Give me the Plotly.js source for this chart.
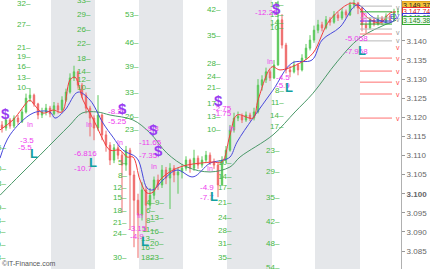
<!DOCTYPE html>
<html><head><meta charset="utf-8">
<script src="https://cdn.plot.ly/plotly-3.0.1.min.js"></script>
<style>html,body{margin:0;padding:0;background:#fff}#chart{width:430px;height:269px}</style>
</head><body><div id="chart"></div>
<script>
// ---- price bars (one per time step) ----
const firstOpen = 3.1180;
const closes = [3.1172,3.1193,3.1177,3.1198,3.1188,3.1214,3.1250,3.1258,3.1235,3.1206,
3.1214,3.1224,3.1209,3.1230,3.1219,3.1245,3.1266,3.1303,3.1319,3.1284,
3.1258,3.1224,3.1198,3.1172,3.1206,3.1154,3.1127,3.1088,3.1120,3.1101,
3.1075,3.1114,3.1049,3.0983,3.0944,3.1010,3.0970,3.0996,3.1036,3.1023,
3.1062,3.1041,3.1067,3.1049,3.1057,3.1067,3.1088,3.1067,3.1093,3.1075,
3.1088,3.1101,3.1083,3.1075,3.1023,3.1088,3.1114,3.1167,3.1198,3.1203,
3.1193,3.1206,3.1198,3.1214,3.1284,3.1298,3.1319,3.1303,3.1337,3.1455,
3.1389,3.1324,3.1319,3.1337,3.1324,3.1355,3.1381,3.1402,3.1428,3.1442,
3.1434,3.1455,3.1449,3.1468,3.1460,3.1476,3.1468,3.1494,3.1499,3.1486,
3.1442,3.1434,3.1455,3.1444,3.1460,3.1449,3.1465,3.1455,3.1476,3.1477];
const highs = [3.1190,3.1200,3.1198,3.1205,3.1206,3.1222,3.1262,3.1275,3.1262,3.1238,
3.1225,3.1235,3.1230,3.1240,3.1238,3.1255,3.1275,3.1315,3.1335,3.1322,
3.1290,3.1265,3.1230,3.1205,3.1258,3.1210,3.1165,3.1135,3.1130,3.1128,
3.1110,3.1125,3.1120,3.1060,3.1000,3.1030,3.1020,3.1015,3.1045,3.1050,
3.1075,3.1070,3.1080,3.1075,3.1068,3.1078,3.1098,3.1092,3.1115,3.1100,
3.1098,3.1112,3.1108,3.1092,3.1080,3.1098,3.1125,3.1180,3.1212,3.1215,
3.1210,3.1215,3.1212,3.1225,3.1300,3.1310,3.1330,3.1325,3.1350,3.1505,
3.1470,3.1395,3.1335,3.1348,3.1342,3.1365,3.1392,3.1415,3.1440,3.1455,
3.1450,3.1465,3.1462,3.1478,3.1475,3.1486,3.1482,3.1502,3.1507,3.1502,
3.1490,3.1450,3.1462,3.1460,3.1468,3.1465,3.1472,3.1470,3.1484,3.1485];
const lows = [3.1160,3.1165,3.1170,3.1172,3.1180,3.1185,3.1210,3.1240,3.1228,3.1195,
3.1198,3.1205,3.1200,3.1205,3.1210,3.1215,3.1240,3.1262,3.1295,3.1275,
3.1250,3.1210,3.1150,3.1140,3.1165,3.1140,3.1110,3.1075,3.1080,3.1090,
3.0950,3.1060,3.0905,3.0860,3.0832,3.0930,3.0900,3.0960,3.0985,3.1010,
3.1015,3.1025,3.0960,3.1030,3.1000,3.1040,3.1060,3.1055,3.1060,3.1065,
3.1068,3.1080,3.1075,3.1065,3.0991,3.1020,3.1080,3.1110,3.1160,3.1190,
3.1185,3.1188,3.1190,3.1192,3.1210,3.1270,3.1290,3.1295,3.1300,3.1335,
3.1380,3.1315,3.1305,3.1315,3.1310,3.1320,3.1350,3.1375,3.1395,3.1420,
3.1425,3.1430,3.1440,3.1445,3.1452,3.1455,3.1460,3.1465,3.1485,3.1470,
3.1425,3.1420,3.1430,3.1438,3.1440,3.1442,3.1445,3.1450,3.1452,3.1468];

// ---- moving averages (time step, value) ----
const maRedT = [-0.5,2.75,7,7.75,10.25,12.75,15,17,18.25,19,20.25,22,23.75,25.25,27,29.5,31.25,32.75,34.5,36.25,37.75,39.5,42.75,46.25,49.5,52.75,55,57,58.75,62.75,64,67.5,69.5,74.5,77.75,82,87.75,91.25,94.5,97,98.5];
const maRedV = [3.1167,3.1193,3.1245,3.1237,3.1211,3.1219,3.1214,3.1298,3.1305,3.1290,3.1245,3.1211,3.1175,3.1141,3.1114,3.1114,3.1096,3.1096,3.1036,3.1002,3.1004,3.1036,3.1062,3.1075,3.1080,3.1083,3.1083,3.1154,3.1206,3.1198,3.1245,3.1332,3.1324,3.1342,3.1368,3.1455,3.1499,3.1462,3.1447,3.1473,3.1476];
const maBlueT = [-0.5,2,7.75,12,13.25,15.75,19,22,25.25,27.75,30.25,33.75,36.25,37.75,40.25,43.75,47.75,52,55.25,57,58.75,62.75,67.75,72.5,77.5,80,84.5,88.75,92.75,97,98.5];
const maBlueV = [3.1093,3.1154,3.1211,3.1214,3.1198,3.1219,3.1266,3.1245,3.1185,3.1148,3.1114,3.1093,3.1015,3.1010,3.1036,3.1062,3.1044,3.1080,3.1088,3.1096,3.1135,3.1198,3.1271,3.1342,3.1350,3.1402,3.1436,3.1494,3.1462,3.1447,3.1460];
const maGreenT = [-0.5,4.5,9.5,13.75,17,20,23.75,27,32.75,37,41.25,46.25,52,57,59.5,67.75,73.25,77.75,83.75,89.5,98.5];
const maGreenV = [3.0996,3.1049,3.1101,3.1146,3.1180,3.1211,3.1214,3.1206,3.1193,3.1159,3.1106,3.1070,3.1057,3.1070,3.1096,3.1154,3.1214,3.1263,3.1345,3.1408,3.1454];

// ---- sessions (shaded) ----
const sessionStart = [12.25,34.25,56.25,78.25];
const sessionEnd   = [23.25,45.25,67.5,89.5];

// ---- axis ticks ----
const tickVals = [3.085,3.090,3.095,3.100,3.105,3.110,3.115,3.120,3.125,3.130,3.135,3.140];
const tickText = ['3.085','3.090','3.095','<b>3.100</b>','3.105','3.110','3.115','3.120','3.125','3.130','3.135','3.140'];

// ---- level lines on the right ----
const levelStart = 89.5, levelEnd = 97.5;
const redLevels = [3.1418,3.1355,3.1321,3.1292,3.1261,3.1198];
const greyLevels = [3.1491,3.1460,3.1431,3.1400];
const greenLevels = [3.1476,3.1444];
const blueLevels = [3.1452];
const redMarkLevels = [3.1383,3.1355,3.1321,3.1292,3.1261,3.1198];
const greyMarkLevels = [3.1488,3.1455,3.1423,3.1400];

// ---- right axis price boxes ----
const boxPrices = [3.14937,3.14774,3.14603,3.14538];
const boxTexts = ['3.149.37','3.147.74','3.146.03','3.145.38'];

// ---- green counter columns ----
const colA_T = 7.5,  colA_txt = ['32','27','21','19','16','13','10'], colA_v = [3.1497,3.1442,3.1384,3.1360,3.1332,3.1305,3.1279];
const colB_T = 22.5, colB_txt = ['33','29','26','22','18','14','12','10'], colB_v = [3.1505,3.1468,3.1431,3.1394,3.1355,3.1319,3.1298,3.1277];
const colC_T = 34.6, colC_txt = ['53','46','39','33','26','23'], colC_v = [3.1468,3.1397,3.1334,3.1266,3.1201,3.1167];
const colD_T = 55.0, colD_txt = ['42','35','28','24','21','17','13','10'], colD_v = [3.1483,3.1413,3.1342,3.1308,3.1279,3.1237,3.1201,3.1167];
const colE_T = 70.8, colE_txt = ['15','13','14','10','8','11','14','17'], colE_v = [3.1494,3.1468,3.1447,3.1434,3.1271,3.1240,3.1206,3.1175];
const colF_T = 1.2,  colF_txt = ['5','0','3','9','23','16','19','13'], colF_v = [3.1120,3.1067,3.1028,3.0965,3.0931,3.0900,3.0866,3.0832];
const colG_T = 31.5, colG_txt = ['5','8','12','15','18','21','24','30'], colG_v = [3.1083,3.1049,3.1017,3.0989,3.0957,3.0926,3.0897,3.0834];
const colH_T = 38.5, colH_txt = ['4','6','8','11','13','16','18'], colH_v = [3.0978,3.0955,3.0931,3.0907,3.0884,3.0860,3.0834];
const colI_T = 40.8, colI_txt = ['9','13','16','20','23'], colI_v = [3.0976,3.0939,3.0902,3.0871,3.0834];
const colJ_T = 57.8, colJ_txt = ['10','14','17','21','24','28','31','35'], colJ_v = [3.1083,3.1044,3.1015,3.0976,3.0939,3.0905,3.0871,3.0834];
const colK_T = 69.8, colK_txt = ['23','29','35','42','48','54'], colK_v = [3.1114,3.1057,3.0991,3.0928,3.0871,3.0808];

// ---- pink signal labels ----
const pinkT = [6.25,5.75,28.75,28.75,20.75,20.25,37.5,37,36.5,33.75,33.75,51.25,51.25,55.2,55.2,66,70.25,70.25,88.5,88.5];
const pinkV = [3.1140,3.1120,3.1216,3.1188,3.1106,3.1067,3.1172,3.1133,3.1101,3.0910,3.0887,3.1015,3.0989,3.1222,3.1209,3.1473,3.1305,3.1284,3.1405,3.1373];
const pinkTxt = ['-3.5','-5.5','-8.24','-5.25','-6.816','-10.7','-9.8','-11.65','-7.35','-3.15','-4.9','-4.9','-7.7','-2.75','-1.75','-12.25','-4.5','-5.9','-5.058','-7.968'];
const inT = [7,21.75,29.5,34.5,38,52,57.5,67,90.5,90.5];
const inV = [3.1180,3.1180,3.1133,3.0944,3.1070,3.1067,3.1172,3.1345,3.1468,3.1455];

// ---- symbols ----
const dollarT = [0.75,30,37.75,39,54,68.5];
const dollarV = [3.1211,3.1222,3.1167,3.1114,3.1245,3.1486];
const lT = [8,22.75,35.75,53,71.75,90];
const lV = [3.1106,3.1083,3.0876,3.0994,3.1277,3.1376];

// ================= build =================
const bars = closes.map((_, i) => i);
const opens = [firstOpen].concat(closes.slice(0, -1));
const FONT = 'Liberation Sans, Arial, sans-serif';

const traces = [
  {type:'candlestick', x:bars, open:opens, high:highs, low:lows, close:closes,
   increasing:{line:{color:'#5cc85c', width:1}, fillcolor:'#5cc85c'},
   decreasing:{line:{color:'#ee6a6a', width:1}, fillcolor:'#ee6a6a'},
   whiskerwidth:0, hoverinfo:'skip'},
  {type:'scatter', mode:'lines', x:maGreenT, y:maGreenV, line:{color:'#4a9868', width:1, shape:'spline'}, hoverinfo:'skip'},
  {type:'scatter', mode:'lines', x:maBlueT, y:maBlueV, line:{color:'#4848dc', width:1, shape:'spline'}, hoverinfo:'skip'},
  {type:'scatter', mode:'lines', x:maRedT, y:maRedV, line:{color:'#f23c3c', width:1, shape:'spline'}, hoverinfo:'skip'}
];

const shapes = [];
sessionStart.forEach((s, i) => shapes.push({type:'rect', xref:'x', yref:'paper', x0:s, x1:sessionEnd[i], y0:0, y1:1,
  fillcolor:'#e5e7ea', line:{width:0}, layer:'below'}));
function levels(arr, color) {
  arr.forEach(v => shapes.push({type:'line', xref:'x', yref:'y', x0:levelStart, x1:levelEnd, y0:v, y1:v,
    line:{color:color, width:1}, layer:'above'}));
}
levels(greyLevels, '#b8b8b8');
levels(greenLevels, '#33aa33');
levels(blueLevels, '#3a3ad8');
levels(redLevels, '#ff7070');

const annotations = [];
function txt(x, y, t, color, size, anchor, extra) {
  annotations.push(Object.assign({x:x, y:y, xref:'x', yref:'y', text:t, showarrow:false,
    xanchor:anchor || 'center', yanchor:'middle', font:{family:FONT, size:size, color:color}, borderpad:0}, extra || {}));
}
const green = '#45b845';
[[colA_T,colA_txt,colA_v],[colB_T,colB_txt,colB_v],[colC_T,colC_txt,colC_v],[colD_T,colD_txt,colD_v],
 [colE_T,colE_txt,colE_v],[colF_T,colF_txt,colF_v],[colG_T,colG_txt,colG_v],[colH_T,colH_txt,colH_v],
 [colI_T,colI_txt,colI_v],[colJ_T,colJ_txt,colJ_v],[colK_T,colK_txt,colK_v]].forEach(c => {
  c[1].forEach((t, i) => txt(c[0], c[2][i], t + '–', green, 8, 'right'));
});
pinkTxt.forEach((t, i) => txt(pinkT[i], pinkV[i], t, '#ee3cee', 8, 'center'));
inT.forEach((t, i) => txt(t, inV[i], 'In', '#ee3cee', 7, 'center'));
dollarT.forEach((t, i) => txt(t, dollarV[i], '<b>$</b>', '#9a3cf2', 15, 'center'));
lT.forEach((t, i) => txt(t, lV[i], '<b>L</b>', '#12a0a0', 13, 'center'));
redMarkLevels.forEach(v => txt(99, v, 'v', '#ff5050', 7, 'center'));
greyMarkLevels.forEach(v => txt(99, v, 'v', '#999', 7, 'center'));
txt(98.2, 3.1465, 'EV', '#3a3ad8', 7, 'center');

const boxStyles = [
  {bg:'#f6c23a', border:'#e0a020', color:'#222'},
  {bg:'#ffffff', border:'#ee3333', color:'#dd2222'},
  {bg:'#ffffff', border:'#3a3ad8', color:'#3a3ad8'},
  {bg:'#eefbee', border:'#33aa33', color:'#228822'}
];
boxPrices.forEach((p, i) => annotations.push({xref:'paper', yref:'y', x:1, y:p, xanchor:'left', yanchor:'middle',
  xshift:1, text:boxTexts[i], showarrow:false, font:{family:FONT, size:7, color:boxStyles[i].color},
  bgcolor:boxStyles[i].bg, bordercolor:boxStyles[i].border, borderwidth:1, borderpad:0}));

annotations.push({xref:'paper', yref:'paper', x:0, y:0, xanchor:'left', yanchor:'bottom', text:'©IT-Finance.com',
  showarrow:false, font:{family:FONT, size:7, color:'#555'}});

const layout = {
  width:430, height:269, margin:{l:0, r:29, t:0, b:0},
  paper_bgcolor:'#ffffff', plot_bgcolor:'#ffffff', showlegend:false, boxgap:0.5,
  xaxis:{range:[-0.5, 99.75], visible:false, rangeslider:{visible:false}, fixedrange:true},
  yaxis:{side:'right', range:[3.0803, 3.1507], tickvals:tickVals, ticktext:tickText, ticks:'outside', ticklen:3,
    tickcolor:'#999', showline:true, linecolor:'#b0b0b0', showgrid:false, zeroline:false,
    tickfont:{family:FONT, size:8, color:'#666'}, fixedrange:true},
  shapes:shapes, annotations:annotations
};
Plotly.newPlot('chart', traces, layout, {staticPlot:true, displayModeBar:false});
</script></body></html>
